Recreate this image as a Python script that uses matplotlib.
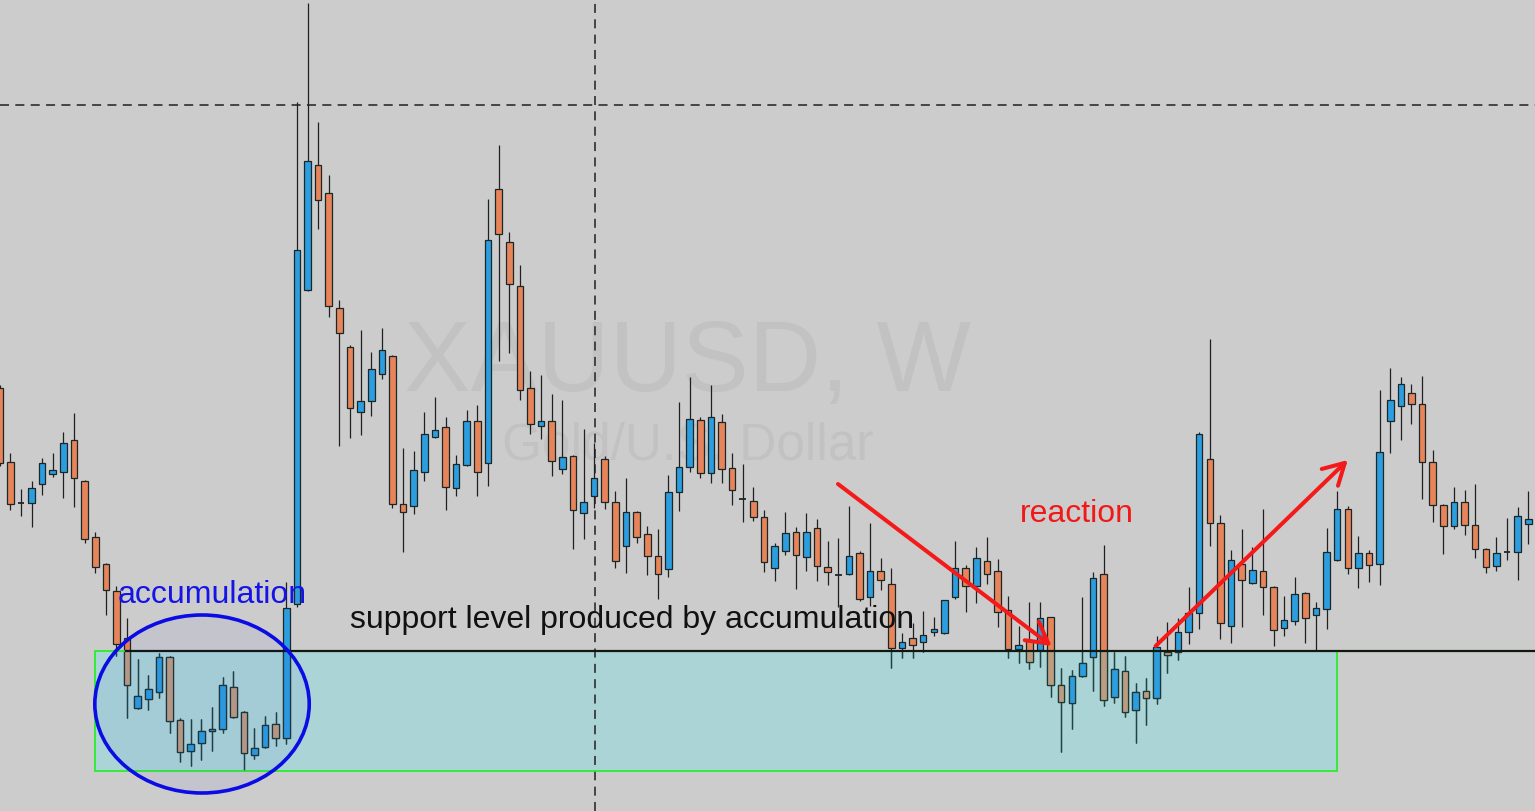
import matplotlib

matplotlib.use("Agg")
import matplotlib.pyplot as plt
import numpy as np
from matplotlib.patches import Ellipse, Rectangle

# Weekly XAUUSD bars. Levels are read off the screenshot as distance from the
# top edge of the frame (there is no price axis), converted to "price" below.
OPEN = [
    388, 462, 503, 503, 484, 474, 472, 440, 481, 537, 564, 591, 638, 708, 699, 692,
    657, 720, 751, 743, 731, 729, 687, 712, 755, 747, 724, 738, 604, 290, 165, 193,
    308, 347, 412, 401, 374, 356, 504, 506, 472, 437, 427, 488, 465, 421, 463, 189,
    242, 286, 388, 426, 421, 469, 456, 513, 496, 459, 502, 546, 512, 534, 556, 569,
    492, 467, 420, 473, 422, 468, 498.5, 501, 517, 568, 551, 532, 557, 528, 567, 574.5,
    574, 553, 597, 571, 584, 648, 638, 642, 632, 633, 597, 568, 586, 561, 571, 610,
    649, 641, 650, 617, 685, 703, 676, 657, 574, 697, 671, 710, 691, 698, 652, 652,
    632, 613, 459, 523, 626, 564, 583, 571, 587, 628, 621, 593, 615, 609, 560, 509,
    568, 553, 564, 421, 406, 393, 404, 462, 505, 526, 502, 525, 549, 566, 552, 552,
    524,
]
HIGH = [
    385, 453, 489, 481, 458, 453, 432, 413, 480, 532, 563, 586, 618, 659, 675, 653,
    656, 718, 719, 719, 707, 677, 671, 711, 728, 716, 712, 582, 102, 3, 122, 175,
    300, 345, 330, 352, 328, 355, 448, 451, 412, 397, 417, 455, 410, 405, 199, 145,
    232, 265, 371, 375, 394, 400, 455, 429, 443, 456, 491, 478, 511, 526, 529, 475,
    402, 377, 417, 385, 414, 453, 464, 487, 510, 543, 512, 527, 513, 519, 541, 538,
    506, 551, 523, 558, 568, 633, 623, 611, 617, 600, 541, 565, 547, 537, 559, 596,
    626, 602, 602, 617, 668, 670, 597, 572, 545, 652, 656, 683, 678, 636, 622, 618,
    587, 432, 339, 515, 550, 529, 547, 509, 586, 596, 577, 592, 602, 528, 491, 506,
    536, 550, 390, 368, 377, 384, 376, 450, 504, 487, 490, 484, 548, 537, 518, 507,
    491,
]
LOW = [
    466, 510, 516, 527, 495, 477, 498, 507, 543, 573, 615, 656, 718, 709, 710, 698,
    733, 762, 766, 760, 751, 733, 718, 771, 759, 748, 746, 744, 607, 291, 229, 317,
    446, 438, 435, 416, 379, 508, 552, 514, 481, 438, 510, 496, 466, 496, 486, 361,
    353, 400, 434, 439, 476, 474, 549, 539, 508, 509, 568, 573, 543, 575, 599, 577,
    511, 472, 478, 483, 483, 505, 522, 521, 572, 581, 555, 589, 571, 581, 585, 607,
    575, 601, 606, 590, 668, 658, 658, 652, 636, 634, 599, 612, 603, 584, 627, 658,
    663, 669, 667, 697, 752, 729, 677, 691, 706, 703, 717, 743, 725, 704, 673, 660,
    644, 629, 546, 639, 643, 627, 584, 615, 646, 636, 625, 643, 650, 629, 561, 574,
    588, 582, 585, 453, 440, 424, 499, 522, 554, 529, 535, 558, 573, 571, 560, 580,
    544,
]
CLOSE = [
    463, 504, 503.5, 488, 463, 470, 443, 478, 539, 567, 590, 644, 685, 696, 689, 657,
    721, 752, 744, 731, 729, 685, 717, 753, 748, 725, 738, 608, 250, 161, 200, 306,
    333, 408, 401, 369, 350, 504, 512, 470, 434, 430, 487, 464, 421, 472, 240, 234,
    284, 390, 424, 421, 461, 457, 510, 502, 478, 502, 561, 512, 537, 556, 574, 492,
    467, 419, 473, 417, 469, 490, 499, 517, 562, 546, 533, 555, 532, 566, 572, 575,
    556, 599, 571, 580, 648, 642, 645, 635, 629, 600, 568, 586, 558, 574, 612, 649,
    645, 662, 618, 685, 702, 676, 663, 578, 700, 669, 712, 692, 698, 647, 655, 632,
    613, 434, 523, 623, 560, 580, 570, 587, 630, 620, 594, 618, 608, 552, 509, 568,
    553, 565, 452, 400, 384, 404, 462, 505, 526, 502, 525, 549, 567, 553, 552.5, 516,
    519,
]

FRAME = 811
SUPPORT = FRAME - 651
ZONE_BOTTOM = FRAME - 771
MARK_LEVEL = FRAME - 105

BG = "#CCCCCC"
BULL = "#2C9DDE"
BEAR = "#E8845A"
EDGE = "#1B2727"


def draw_bars(ax, x, o, h, lo, c, bull, doji, bear_color, wick, edge, z, clip=None):
    """Wicks, bodies and doji dashes for one colour scheme."""
    artists = [ax.vlines(x, lo, h, color=wick, lw=0.9, zorder=z)]
    body = ~doji
    bars = ax.bar(x[body], np.abs(c - o)[body], bottom=np.minimum(o, c)[body], width=0.62,
                  color=np.where(bull, BULL, bear_color)[body], edgecolor=edge,
                  linewidth=0.9, zorder=z + 0.1)
    artists += list(bars)
    artists.append(ax.hlines(o[doji], x[doji] - 0.32, x[doji] + 0.32, color=edge,
                             lw=1.3, zorder=z + 0.1))
    if clip is not None:
        for a in artists:
            a.set_clip_path(clip)


def build():
    plt.rcParams["font.family"] = ["Liberation Sans", "DejaVu Sans"]
    fig = plt.figure(figsize=(15.35, 8.11), dpi=100)
    fig.patch.set_facecolor(BG)
    ax = fig.add_axes([0, 0, 1, 1])
    ax.set_facecolor(BG)
    ax.axis("off")

    o = FRAME - np.array(OPEN, dtype=float)
    h = FRAME - np.array(HIGH, dtype=float)
    lo = FRAME - np.array(LOW, dtype=float)
    c = FRAME - np.array(CLOSE, dtype=float)
    x = np.arange(len(o))
    bull = c > o
    doji = np.abs(c - o) < 1

    # symbol watermark sits behind everything
    ax.text(64.8, FRAME - 391, "XAUUSD, W", fontsize=72, color="#C2C2C2",
            ha="center", va="baseline", zorder=0.5)
    ax.text(64.8, FRAME - 459, "Gold/U.S. Dollar", fontsize=37, color="#C2C2C2",
            ha="center", va="baseline", zorder=0.5)

    # accumulation zone: filled behind the bars, bars inside it get muted colours
    zone = Rectangle((9, ZONE_BOTTOM), 117, SUPPORT - ZONE_BOTTOM,
                     facecolor="#AAD4D6", edgecolor="none", zorder=0.8)
    ax.add_patch(zone)

    dash = (0, (5, 3.5))
    ax.axvline(56.1, color="#3A3A3A", lw=1.3, ls=dash, zorder=1)
    ax.axhline(MARK_LEVEL, color="#3A3A3A", lw=1.3, ls=dash, zorder=1)

    draw_bars(ax, x, o, h, lo, c, bull, doji, BEAR, "#202020", EDGE, 2)
    draw_bars(ax, x, o, h, lo, c, bull, doji, "#BD9D82", "#1E4444", "#1E3838", 3, clip=zone)

    ax.add_patch(Rectangle((9, ZONE_BOTTOM), 117, SUPPORT - ZONE_BOTTOM,
                           fill=False, edgecolor="#1EF01E", lw=1.2, zorder=5))
    ax.hlines(SUPPORT, 11.8, 146, color="#101810", lw=1.6, zorder=6)

    ax.add_patch(Ellipse((19.06, FRAME - 704), 20.2, 178, facecolor=(0.05, 0.05, 0.9, 0.04),
                         edgecolor="#0B0BE3", lw=2.6, zorder=7))

    ax.text(11.1, FRAME - 603, "accumulation", fontsize=23, color="#1414E6",
            ha="left", va="baseline", zorder=8)
    ax.text(33.0, FRAME - 628, "support level produced by accumulation", fontsize=23,
            color="#111111", ha="left", va="baseline", zorder=8)
    ax.text(96.1, FRAME - 522, "reaction", fontsize=23, color="#F21818",
            ha="left", va="baseline", zorder=8)

    head = "->,head_length=0.75,head_width=0.42"
    for start, end in [((78.97, FRAME - 484), (99.1, FRAME - 646)),
                       ((108.9, FRAME - 646), (127.0, FRAME - 460))]:
        ax.annotate("", xy=end, xytext=start, zorder=9,
                    arrowprops=dict(arrowstyle=head, color="#F41A1A", lw=2.9,
                                    mutation_scale=20, shrinkA=0, shrinkB=0))

    ax.set_xlim(0.028, 0.028 + 1535 / 10.615)
    ax.set_ylim(0, FRAME)
    fig.savefig("out.png", dpi=100, facecolor=BG)
    plt.close(fig)


if __name__ == "__main__":
    build()
